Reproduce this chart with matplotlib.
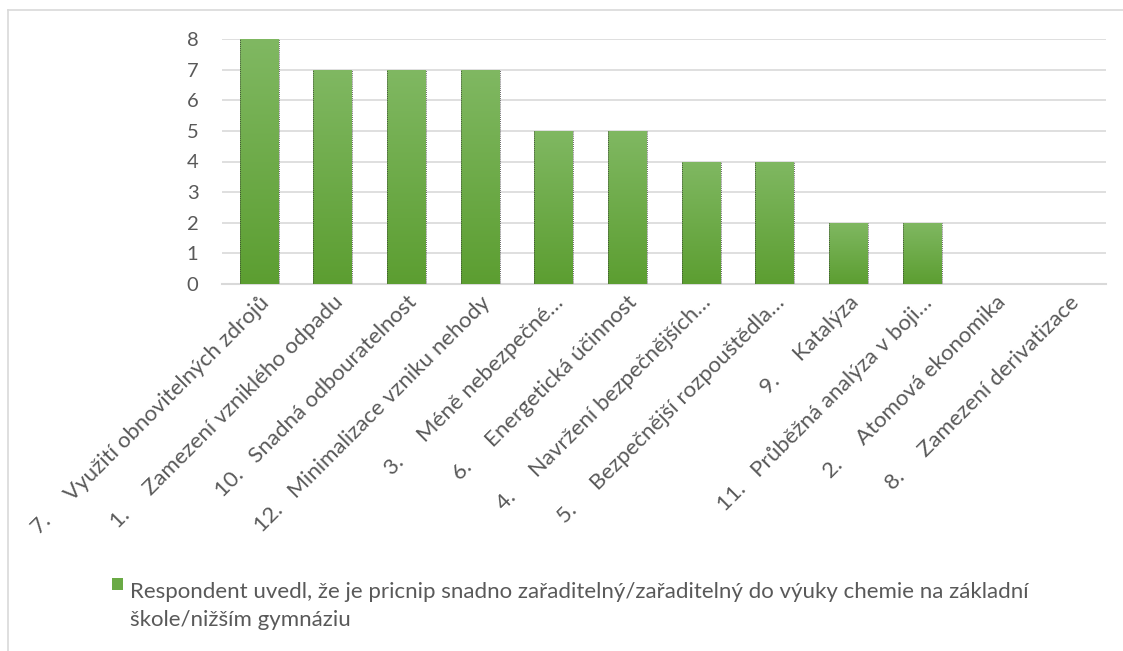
import matplotlib
matplotlib.use("Agg")
import matplotlib.pyplot as plt
import numpy as np
from matplotlib.patches import Rectangle
from matplotlib.lines import Line2D
from matplotlib.colors import LinearSegmentedColormap

plt.rcParams['font.family'] = ['Lato', 'DejaVu Sans']

categories = [
    "7.     Využití obnovitelných zdrojů",
    "1.     Zamezení vzniklého odpadu",
    "10.   Snadná odbouratelnost",
    "12.   Minimalizace vzniku nehody",
    "3.     Méně nebezpečné…",
    "6.     Energetická účinnost",
    "4.     Navržení bezpečnějších…",
    "5.     Bezpečnější rozpouštědla…",
    "9.     Katalýza",
    "11.   Průběžná analýza v boji…",
    "2.     Atomová ekonomika",
    "8.     Zamezení derivatizace",
]
values = [8, 7, 7, 7, 5, 5, 4, 4, 2, 2, 0, 0]
y_ticks = [0, 1, 2, 3, 4, 5, 6, 7, 8]
legend_label = ("Respondent uvedl, že je pricnip snadno zařaditelný/zařaditelný do výuky chemie na základní\n"
                "škole/nižším gymnáziu")

W, H = 1123, 651
fig = plt.figure(figsize=(W / 100, H / 100), dpi=100)
ax = fig.add_axes([222 / W, 1 - 284 / H, (1106 - 222) / W, (284 - 39) / H])

text_color = "#595959"
grid_color = "#d9d9d9"

x = np.arange(len(categories))
bar_w = 0.52
bars = ax.bar(x, values, width=bar_w, color="none", edgecolor="none", zorder=3)

# vertical gradient fill for each bar (lighter at top, darker at bottom)
cmap = LinearSegmentedColormap.from_list("grn", ["#5c9e31", "#80b862"])
grad = np.linspace(0, 1, 256).reshape(-1, 1)
for b, v in zip(bars, values):
    if v <= 0:
        continue
    x0 = b.get_x()
    im = ax.imshow(grad, extent=[x0, x0 + bar_w, 0, v], origin="lower",
                   cmap=cmap, aspect="auto", zorder=3)
    im.set_clip_path(b)
    # faint dotted outline along the bar sides
    ax.plot([x0, x0], [0, v], color="#333333", lw=0.6, ls=(0, (1, 1.5)), zorder=4)
    ax.plot([x0 + bar_w + 0.01, x0 + bar_w + 0.01], [0, v], color="#333333", lw=0.6,
            ls=(0, (1, 1.5)), zorder=4)

ax.set_xlim(-0.5, len(categories) - 0.5)
ax.set_ylim(0, 8)
ax.set_yticks(y_ticks)
ax.set_yticklabels([str(t) for t in y_ticks], fontsize=14.5, color=text_color)
ax.yaxis.grid(True, color=grid_color, lw=1.2, zorder=0)
ax.set_axisbelow(True)
for s in ["top", "right", "left"]:
    ax.spines[s].set_visible(False)
ax.spines["bottom"].set_color(grid_color)
ax.spines["bottom"].set_linewidth(1.5)
ax.tick_params(axis="y", length=0, pad=17)
ax.tick_params(axis="x", length=0, pad=6)

ax.set_xticks(x)
ax.set_xticklabels(categories, rotation=45, ha="right", rotation_mode="anchor",
                   fontsize=16, color=text_color)

# legend drawn as a swatch plus text below the plot
fig.patches.append(Rectangle((112 / W, 1 - 590 / H), 11 / W, 12 / H,
                             transform=fig.transFigure, facecolor="#6aaa45",
                             edgecolor="none"))
fig.text(130 / W, 1 - 606 / H, legend_label, fontsize=16, color=text_color,
         ha="left", va="center", linespacing=1.45)

# chart frame lines
fig.add_artist(Line2D([8 / W, 8 / W], [1 - 10 / H, 0], transform=fig.transFigure,
                      color=grid_color, lw=1.2))
fig.add_artist(Line2D([8 / W, 1], [1 - 10 / H, 1 - 10 / H], transform=fig.transFigure,
                      color=grid_color, lw=1.2))

fig.savefig("out.png", dpi=100, facecolor="white")
